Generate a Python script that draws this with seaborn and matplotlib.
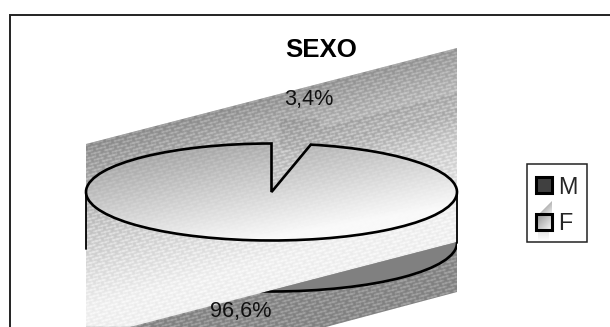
import numpy as np
import matplotlib
matplotlib.use("Agg")
import matplotlib.pyplot as plt
from matplotlib.patches import Polygon, Circle, Patch, Rectangle
import seaborn as sns

# Chart data
title = "SEXO"
categories = ["M", "F"]
shares = [3.4, 96.6]

W, H = 610, 327
CX, CY, RX, RY = 271.5, 192.0, 185.5, 48.5
DEPTH = 51.0
SLOPE = 0.259

sns.set_theme(style="white")
plt.rcParams["font.family"] = ["Liberation Sans", "DejaVu Sans"]


def dx(px):
    return (np.asarray(px, float) - CX) / RX


def dy(py):
    return (CY - np.asarray(py, float)) / RY


def poly(points, **kw):
    pts = np.array(points, float)
    return Polygon(np.c_[dx(pts[:, 0]), dy(pts[:, 1])], closed=True, **kw)


fig = plt.figure(figsize=(W / 100, H / 100), dpi=100, facecolor="white")
ax = fig.add_axes([0, 0, 1, 1])
xlim = (float(dx(0)), float(dx(W)))
ylim = (float(dy(H)), float(dy(0)))

# Pixel grids for the shaded backdrop
yy, xx = np.mgrid[0:H, 0:W] + 0.5
u = yy + SLOPE * (xx - 86) - 144


def soften(a):
    return (2 * a + np.roll(a, 1, 0) + np.roll(a, -1, 0) + np.roll(a, 1, 1) + np.roll(a, -1, 1)) / 6


def texture(strength, base):
    w = yy + SLOPE * xx
    k = np.floor(w / 3.4)
    mask = ((w % 3.4) < 1.6) & (((xx + k * 5) % 13) < 10)
    return soften(base + (255 - base) * strength * mask)


def show(arr, clip, z):
    im = ax.imshow(arr, extent=(*xlim, *ylim), origin="upper", cmap="gray",
                   vmin=0, vmax=255, aspect="auto", interpolation="nearest", zorder=z)
    if not clip.axes:
        clip.set_transform(ax.transData)
    im.set_clip_path(clip)
    return im


# Slanted shaded band behind the pie
grad = 132 + 104 * np.clip(u / 165, 0, 1) ** 0.85 + 0.03 * (xx - 86) * (u < 60)
step = np.where((xx > 320) & (u > 45) & (u < 90), -18 * (1 - (u - 45) / 45), 0)
block = np.where((xx > 280) & (xx < 320) & (yy > 119) & (yy < 150), -14, 0)
band = [(86, 144), (457, 48), (457, 292), (86, 388)]
strength = 0.30 + 0.40 * np.clip(u / 165, 0, 1)
show(texture(strength, np.clip(grad + step + block, 0, 240)), poly(band), 1)

# Darker strip along the lower edge of the band
strip = [(457, 242), (130, 327), (326, 327), (457, 292)]
show(texture(0.30, np.full_like(xx, 128.0)), poly(strip), 2)

# Pie: only the large slice carries an outline and its own shading
wedges, _ = ax.pie(shares, startangle=90, counterclock=False, radius=1, center=(0, 0),
                   colors=["none", "none"], frame=True,
                   wedgeprops=dict(edgecolor="black", linewidth=1.9, zorder=5))
wedges[0].set_edgecolor("none")
top = 146 + 105 * (0.5 * (xx - 86) / 371 + 0.75 * (yy - 144) / 97)
show(texture(0.18, np.clip(top, 0, 248)), wedges[1], 4.5)

# Visible part of the side wall, cut by the strip
side_clip = poly(strip, transform=ax.transData)
wall = Circle((0, -DEPTH / RY), 1, facecolor="#808080", edgecolor="black", linewidth=1.9, zorder=3)
ax.add_patch(wall)
wall.set_clip_path(side_clip)
ax.plot(dx([86, 86]), dy([192, 249]), color="black", lw=1.3, zorder=4)
ax.plot(dx([457.3, 457.3]), dy([192, 243]), color="black", lw=1.3, zorder=4)

# Value labels
ax.text(dx(309), dy(99.5), f"{shares[0]:.1f}%".replace(".", ","), fontsize=15.6,
        ha="center", va="center", color="#111111", zorder=6)
ax.text(dx(241), dy(311), f"{shares[1]:.1f}%".replace(".", ","), fontsize=15.6,
        ha="center", va="center", color="#111111", zorder=6)
ax.text(dx(321), dy(50), title, fontsize=18.6, fontweight="bold",
        ha="center", va="center", color="black", zorder=6)

ax.axis("off")

# Outer frame running off the right and bottom edges
ax.plot(dx([10, 10, W + 5]), dy([H + 5, 15, 15]), color="#222222", lw=1.4,
        solid_joinstyle="miter", zorder=6)

# Legend box and entries
ax.add_patch(Rectangle((dx(526.5), dy(242)), 60.5 / RX, 78 / RY, facecolor="white",
                       edgecolor="#222222", linewidth=1.1, zorder=6.5))
handles = [Patch(facecolor="#404040", edgecolor="black", linewidth=2.2),
           Patch(facecolor="none", edgecolor="black", linewidth=2.2)]
leg = ax.legend(handles, categories, loc="upper left",
                bbox_to_anchor=(536 / W, 1 - 175.5 / H), borderaxespad=0, borderpad=0,
                fontsize=16.8, frameon=False, handlelength=0.69, handleheight=0.69,
                handletextpad=0.27, labelspacing=0.6)
leg.set_zorder(7)

# Shaded fringe and face of the F key
fx = np.linspace(0, 1, 24)
tri = ax.imshow(np.add.outer(fx, fx) * 60 + 120, extent=(dx(538), dx(552), dy(215), dy(201)),
                origin="upper", cmap="gray", vmin=0, vmax=255, aspect="auto", zorder=6.7)
tri_clip = poly([(538, 215), (552, 201), (552, 215)])
tri_clip.set_transform(ax.transData)
tri.set_clip_path(tri_clip)
ax.imshow(np.add.outer(fx, fx) * 50 + 150, extent=(dx(537), dx(552), dy(231), dy(215)),
          origin="upper", cmap="gray", vmin=0, vmax=255, aspect="auto", zorder=6.7)
fade = np.linspace(228, 254, 12)[:, None] * np.ones((12, 12))
ax.imshow(fade, extent=(dx(538), dx(549), dy(241), dy(231)),
          origin="upper", cmap="gray", vmin=0, vmax=255, aspect="auto", zorder=6.7)

ax.set_xlim(*xlim)
ax.set_ylim(*ylim)
ax.set_aspect("auto")

fig.savefig("out.png", dpi=100)
